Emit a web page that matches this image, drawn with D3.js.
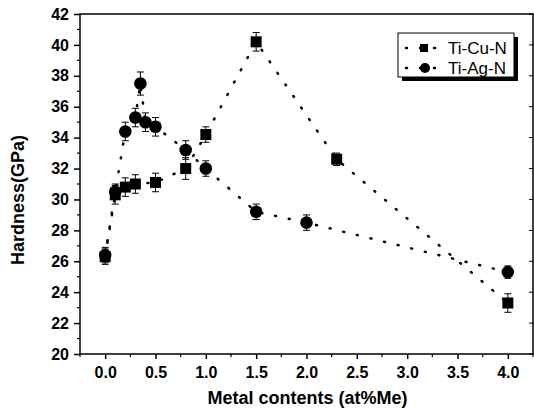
<!DOCTYPE html>
<html>
<head>
<meta charset="utf-8">
<script src="https://cdn.jsdelivr.net/npm/d3@7"></script>
<style>
  body { margin: 0; background: #fff; }
  svg { display: block; font-family: Arial, "Liberation Sans", sans-serif; }
</style>
</head>
<body>
<svg width="534" height="410"></svg>
<script>
// Data
const cuX   = [0, 0.1, 0.2, 0.3, 0.5, 0.8, 1.0, 1.5, 2.3, 4.0];
const cuY   = [26.3, 30.3, 30.8, 31.0, 31.1, 32.0, 34.2, 40.2, 32.6, 23.3];
const cuErr = [0.5, 0.6, 0.6, 0.6, 0.6, 0.7, 0.5, 0.6, 0.4, 0.6];

const agX   = [0, 0.1, 0.2, 0.3, 0.35, 0.4, 0.5, 0.8, 1.0, 1.5, 2.0, 4.0];
const agY   = [26.4, 30.5, 34.4, 35.3, 37.5, 35.0, 34.7, 33.2, 32.0, 29.2, 28.5, 25.3];
const agErr = [0.5, 0.5, 0.6, 0.6, 0.75, 0.6, 0.6, 0.6, 0.5, 0.5, 0.5, 0.4];

const xTicks = [0, 0.5, 1, 1.5, 2, 2.5, 3, 3.5, 4];
const yTicks = [20, 22, 24, 26, 28, 30, 32, 34, 36, 38, 40, 42];

const seriesNames = ["Ti-Cu-N", "Ti-Ag-N"];

// Plot box
const box = { left: 80, right: 533, top: 14, bottom: 354 };

const svg = d3.select("svg");

const x = d3.scaleLinear().domain([-0.25, 4.25]).range([box.left, box.right]);
const y = d3.scaleLinear().domain([20, 42]).range([box.bottom, box.top]);

// Frame
svg.append("rect")
    .attr("x", box.left).attr("y", box.top)
    .attr("width", box.right - box.left).attr("height", box.bottom - box.top)
    .attr("fill", "none").attr("stroke", "#000").attr("stroke-width", 1.5);

// Bottom axis
const xAxis = svg.append("g")
    .attr("transform", `translate(0,${box.bottom})`)
    .call(d3.axisBottom(x).tickValues(xTicks).tickFormat(d3.format(".1f")).tickSize(5).tickPadding(8));
xAxis.select(".domain").remove();
xAxis.selectAll("text").style("font-size", "16px").style("font-weight", "bold");
xAxis.selectAll("line").attr("stroke-width", 1.5);

// x minor ticks
svg.append("g").selectAll("line")
    .data(d3.range(-0.25, 4.3, 0.25).filter(v => Math.abs(v * 2 - Math.round(v * 2)) > 0.01))
    .enter().append("line")
    .attr("x1", d => x(d)).attr("x2", d => x(d))
    .attr("y1", box.bottom).attr("y2", box.bottom + 3)
    .attr("stroke", "#000").attr("stroke-width", 1.2);

// Left axis
const yAxis = svg.append("g")
    .attr("transform", `translate(${box.left},0)`)
    .call(d3.axisLeft(y).tickValues(yTicks).tickSize(6).tickPadding(5));
yAxis.select(".domain").remove();
yAxis.selectAll("text").style("font-size", "16px").style("font-weight", "bold");
yAxis.selectAll("line").attr("stroke-width", 1.5);

// y minor ticks
svg.append("g").selectAll("line")
    .data(d3.range(21, 42, 2))
    .enter().append("line")
    .attr("x1", box.left - 3).attr("x2", box.left)
    .attr("y1", d => y(d)).attr("y2", d => y(d))
    .attr("stroke", "#000").attr("stroke-width", 1.2);

// right inner ticks
svg.append("g").selectAll("line")
    .data(yTicks)
    .enter().append("line")
    .attr("x1", box.right - 4).attr("x2", box.right)
    .attr("y1", d => y(d)).attr("y2", d => y(d))
    .attr("stroke", "#000").attr("stroke-width", 1);

// Axis titles
svg.append("text")
    .attr("x", (box.left + box.right) / 2 + 1)
    .attr("y", 404)
    .attr("text-anchor", "middle")
    .style("font-size", "18px").style("font-weight", "bold")
    .text("Metal contents (at%Me)");

svg.append("text")
    .attr("transform", "rotate(-90)")
    .attr("x", -200)
    .attr("y", 24)
    .attr("text-anchor", "middle")
    .style("font-size", "18px").style("font-weight", "bold")
    .text("Hardness(GPa)");

const line = d3.line().x(d => x(d[0])).y(d => y(d[1]));

function drawSeries(xs, ys, errs, shape) {
    const pts = xs.map((v, i) => [v, ys[i], errs[i]]);
    const g = svg.append("g");

    g.append("path")
        .datum(pts)
        .attr("d", line)
        .attr("fill", "none")
        .attr("stroke", "#000")
        .attr("stroke-width", 2.5)
        .attr("stroke-linecap", "round")
        .attr("stroke-dasharray", "1,13");

    // error bars
    const eb = g.selectAll(".eb").data(pts).enter().append("g");
    eb.append("line")
        .attr("x1", d => x(d[0])).attr("x2", d => x(d[0]))
        .attr("y1", d => y(d[1] - d[2])).attr("y2", d => y(d[1] + d[2]))
        .attr("stroke", "#000").attr("stroke-width", 1);
    [-1, 1].forEach(s => {
        eb.append("line")
            .attr("x1", d => x(d[0]) - 3.5).attr("x2", d => x(d[0]) + 3.5)
            .attr("y1", d => y(d[1] + s * d[2])).attr("y2", d => y(d[1] + s * d[2]))
            .attr("stroke", "#000").attr("stroke-width", 1);
    });

    if (shape === "square") {
        g.selectAll(".m").data(pts).enter().append("rect")
            .attr("x", d => x(d[0]) - 5.5).attr("y", d => y(d[1]) - 5.5)
            .attr("width", 11).attr("height", 11)
            .attr("fill", "#000");
    } else {
        g.selectAll(".m").data(pts).enter().append("circle")
            .attr("cx", d => x(d[0])).attr("cy", d => y(d[1]))
            .attr("r", 6.3)
            .attr("fill", "#000");
    }
}

drawSeries(cuX, cuY, cuErr, "square");
drawSeries(agX, agY, agErr, "circle");

// Legend
const lg = svg.append("g");
lg.append("rect")
    .attr("x", 402).attr("y", 37).attr("width", 116).attr("height", 44)
    .attr("fill", "#000");
lg.append("rect")
    .attr("x", 398).attr("y", 33).attr("width", 116).attr("height", 44)
    .attr("fill", "#fff").attr("stroke", "#000").attr("stroke-width", 1);

seriesNames.forEach((name, i) => {
    const yy = 48 + i * 20;
    lg.append("line")
        .attr("x1", 406).attr("x2", 436)
        .attr("y1", yy).attr("y2", yy)
        .attr("stroke", "#000").attr("stroke-width", 2.5)
        .attr("stroke-linecap", "round")
        .attr("stroke-dasharray", "1,13");
    if (i === 0) {
        lg.append("rect").attr("x", 420).attr("y", yy - 4).attr("width", 8).attr("height", 8).attr("fill", "#000");
    } else {
        lg.append("circle").attr("cx", 425).attr("cy", yy).attr("r", 5).attr("fill", "#000");
    }
    lg.append("text")
        .attr("x", 448).attr("y", yy + 6)
        .style("font-size", "17px")
        .text(name);
});
</script>
</body>
</html>
